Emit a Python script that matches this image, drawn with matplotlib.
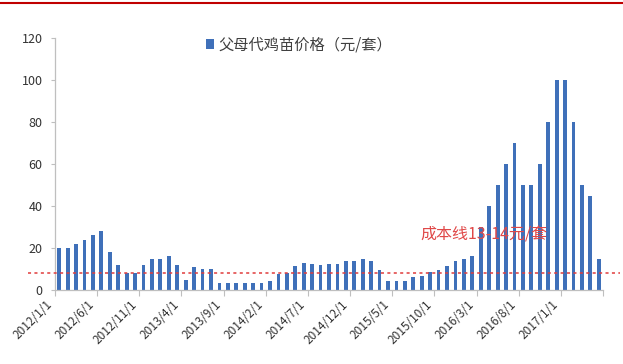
import matplotlib
matplotlib.use("Agg")
import matplotlib.pyplot as plt
import matplotlib.transforms as mtransforms
from matplotlib.patches import Patch
from matplotlib.lines import Line2D

plt.rcParams['font.family'] = ['Noto Sans CJK SC', 'DejaVu Sans']

# Monthly parent-stock chick price, 2012/1 .. 2017/5 (yuan per set)
months = [f"{y}/{m}/1" for y in range(2012, 2018) for m in range(1, 13)][:65]
prices = [20, 20, 22, 24, 26, 28, 18, 12, 8, 8,
          12, 15, 15, 16, 12, 5, 11, 10, 10, 3.5,
          3.5, 3.5, 3.5, 3.5, 3.5, 4.5, 7.7, 8.3, 11.2, 12.8,
          12.5, 12, 12.5, 12.5, 13.6, 13.8, 14.7, 14, 9.6, 4.5,
          4.5, 4.5, 6, 6.5, 8.5, 9.6, 11.5, 13.6, 14.8, 16,
          30, 40, 50, 60, 70, 50, 50, 60, 80, 100,
          100, 80, 50, 45, 15]
tick_every = 5
cost_line = 8
series_name = "父母代鸡苗价格（元/套）"
cost_label = "成本线13-14元/套"
yticks = [0, 20, 40, 60, 80, 100, 120]

fig = plt.figure(figsize=(6.23, 3.64), dpi=100)
ax = fig.add_axes([55 / 623, 1 - 290 / 364, 548 / 623, 252 / 364])

x = list(range(len(prices)))
ax.bar(x, prices, width=0.45, color='#3f70b9', zorder=2)

ax.set_xlim(-0.5, len(prices) - 0.5)
ax.set_ylim(0, 120)

# y axis
ax.set_yticks(yticks)
ax.tick_params(axis='y', length=3, width=0.8, color='#bfbfbf', labelsize=9,
               labelcolor='#333333', pad=6)
# x axis: ticks at category boundaries every five months
tick_pos = [i - 0.5 for i in range(0, len(prices) + 1, tick_every)]
ax.set_xticks(tick_pos)
ax.set_xticklabels([months[i] if i < len(months) else '' for i in range(0, len(prices) + 1, tick_every)],
                   rotation=45, ha='right', va='top', rotation_mode='default')
ax.tick_params(axis='x', length=4, width=0.8, color='#bfbfbf', labelsize=8.5,
               labelcolor='#333333', pad=2)

for side in ('top', 'right'):
    ax.spines[side].set_visible(False)
for side in ('left', 'bottom'):
    ax.spines[side].set_color('#bfbfbf')
    ax.spines[side].set_linewidth(0.9)

# cost line, running past the plot area
trans = mtransforms.blended_transform_factory(fig.transFigure, ax.transData)
ax.add_line(Line2D([28 / 623, 620 / 623], [cost_line, cost_line], transform=trans,
                   color='#e03c3c', linestyle=(0, (2, 2.2)), linewidth=1.1,
                   clip_on=False, zorder=3))
ax.text(42.8, 26, cost_label, color='#e04848', fontsize=11.5, ha='left', va='center', zorder=4)

# legend
handle = Patch(facecolor='#3f70b9', edgecolor='none')
fig.legend([handle], [series_name], loc='center', bbox_to_anchor=(299 / 623, 1 - 45 / 364),
           frameon=False, fontsize=11, handlelength=0.55, handleheight=0.55,
           handletextpad=0.3, labelcolor='#404040')

# red rule along the top edge
fig.add_artist(Line2D([0, 1], [1 - 3 / 364, 1 - 3 / 364], transform=fig.transFigure,
                      color='#c00000', linewidth=1.5))

fig.savefig("out.png", dpi=100)
